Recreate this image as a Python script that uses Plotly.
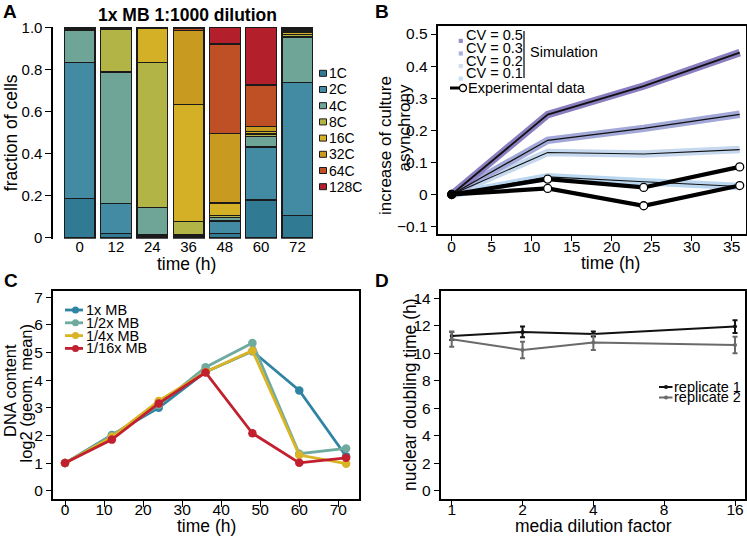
import plotly.graph_objects as go

W, H = 747, 536
FONT = "Liberation Sans, Arial, Helvetica, sans-serif"


def fx(px):
    return px / W


def fy(py):
    return 1 - py / H


# ---------------- Panel A data ----------------
a_times = ["0", "12", "24", "36", "48", "60", "72"]
a_sub1C = [0, 0, 0.016, 0.015, 0, 0, 0]
a_1C = [0.188, 0.022, 0, 0, 0.022, 0.18, 0.106]
a_2C = [0.646, 0.141, 0, 0, 0.058, 0.252, 0.631]
a_4C = [0.153, 0.626, 0.128, 0, 0.018, 0.05, 0.218]
a_8C = [0, 0.203, 0.691, 0.062, 0.008, 0.012, 0.012]
a_16C = [0, 0, 0.160, 0.556, 0.06, 0.012, 0.008]
a_32C = [0, 0, 0, 0.352, 0.33, 0.025, 0.005]
a_64C = [0, 0, 0, 0.012, 0.425, 0.195, 0]
a_128C = [0, 0, 0, 0, 0.079, 0.274, 0]
a_over = [0.013, 0.008, 0.005, 0.003, 0, 0, 0.02]
a_names = ["1C", "2C", "4C", "8C", "16C", "32C", "64C", "128C"]
a_colors = ["#307A93", "#438AA3", "#6FA596", "#B3B446", "#D3B025", "#C99A20", "#BF5025", "#B31F2A"]

# ---------------- Panel B data ----------------
b_time = [0, 12, 24, 36]
b_cv05 = [0, 0.249, 0.338, 0.442]
b_cv03 = [0, 0.169, 0.206, 0.25]
b_cv02 = [0, 0.131, 0.126, 0.14]
b_cv01 = [0, 0.055, 0.04, 0.025]
b_exp1 = [0, 0.048, 0.022, 0.086]
b_exp2 = [0, 0.019, -0.035, 0.028]
b_cv_labels = ["CV = 0.5", "CV = 0.3", "CV = 0.2", "CV = 0.1"]
b_band_colors = ["#8B7EC0", "#A2A9D8", "#C6D8EE", "#BBD7F0"]
b_key_colors = ["#9A90C9", "#A9B2DD", "#D2DFF2", "#C6DFF4"]

# ---------------- Panel C data ----------------
c_time = [0, 12, 24, 36, 48, 60, 72]
c_1x = [1, 2.02, 3.0, 4.3, 5.05, 3.63, 1.25]
c_half = [1, 2.0, 3.1, 4.47, 5.35, 1.34, 1.53]
c_quarter = [1, 1.95, 3.25, 4.3, 5.07, 1.29, 0.98]
c_16th = [1, 1.85, 3.16, 4.28, 2.08, 1.01, 1.19]
c_names = ["1x MB", "1/2x MB", "1/4x MB", "1/16x MB"]
c_colors = ["#2F84A3", "#6EAB9E", "#D9B426", "#C21F2F"]

# ---------------- Panel D data ----------------
d_factor = [1, 2, 4, 16]
d_rep1 = [11.26, 11.55, 11.4, 11.94]
d_rep1_err = [0.3, 0.39, 0.18, 0.47]
d_rep2 = [11.02, 10.24, 10.78, 10.6]
d_rep2_err = [0.55, 0.6, 0.55, 0.6]
d_names = ["replicate 1", "replicate 2"]
d_colors = ["#111111", "#6A6A6A"]

fig = go.Figure()

# ---- A: stacked bars
xs = list(range(len(a_times)))
stack = [("<1C", a_sub1C, "#1A1A1A")]
for nm, vals, col in zip(a_names, [a_1C, a_2C, a_4C, a_8C, a_16C, a_32C, a_64C, a_128C], a_colors):
    stack.append((nm, vals, col))
stack.append((">128C", a_over, "#1A1A1A"))
for nm, vals, col in stack:
    fig.add_trace(go.Bar(
        x=xs, y=[v if v > 0 else None for v in vals], name=nm, width=0.845,
        marker=dict(color=col, line=dict(color="#1A1A1A", width=1.3)),
        xaxis="x", yaxis="y", showlegend=False))

# ---- B: simulation bands, centre lines, experiment
for vals, col in zip([b_cv01, b_cv02, b_cv03, b_cv05], b_band_colors[::-1]):
    fig.add_trace(go.Scatter(x=b_time, y=vals, mode="lines", line=dict(color=col, width=7.5),
                             xaxis="x2", yaxis="y2", showlegend=False))
for vals, w in zip([b_cv01, b_cv02, b_cv03, b_cv05], [1.1, 1.1, 1.3, 1.8]):
    fig.add_trace(go.Scatter(x=b_time, y=vals, mode="lines", line=dict(color="#111111", width=w),
                             xaxis="x2", yaxis="y2", showlegend=False))
for vals in [b_exp2, b_exp1]:
    fig.add_trace(go.Scatter(x=b_time, y=vals, mode="lines+markers",
                             line=dict(color="black", width=4.2),
                             marker=dict(size=8, color=["black", "white", "white", "white"],
                                         line=dict(color="black", width=1.3)),
                             xaxis="x2", yaxis="y2", showlegend=False))

# ---- C
for vals, col, nm in zip([c_1x, c_half, c_quarter, c_16th], c_colors, c_names):
    fig.add_trace(go.Scatter(x=c_time, y=vals, mode="lines+markers", name=nm,
                             line=dict(color=col, width=2.8), marker=dict(color=col, size=8.5),
                             xaxis="x3", yaxis="y3", showlegend=False))

# ---- D
for vals, err, col, nm in zip([d_rep1, d_rep2], [d_rep1_err, d_rep2_err], d_colors, d_names):
    fig.add_trace(go.Scatter(x=d_factor, y=vals, mode="lines+markers", name=nm,
                             line=dict(color=col, width=2), marker=dict(color=col, size=4),
                             error_y=dict(type="data", array=err, color=col, thickness=2, width=2.5),
                             xaxis="x4", yaxis="y4", showlegend=False))

TICK = 15.5
TITLE = 17.5
tickfont = dict(family=FONT, size=TICK, color="black")
base = dict(showline=True, linecolor="black", linewidth=1.5, ticks="outside", ticklen=5.5,
            tickwidth=1.2, tickcolor="black", showgrid=False, zeroline=False, tickfont=tickfont,
            automargin=False)

layout = dict(
    width=W, height=H, margin=dict(l=0, r=0, t=0, b=0, autoexpand=False), plot_bgcolor="white",
    paper_bgcolor="white", showlegend=False, barmode="stack", font=dict(family=FONT, color="black"),
    xaxis=dict(domain=[fx(52.7), fx(318)], range=[-0.742, 6.567], showline=False, showgrid=False,
               zeroline=False, ticks="", tickvals=xs, ticktext=a_times, automargin=False,
               ticklabelstandoff=-3, tickfont=dict(family=FONT, size=15, color="black"), anchor="y"),
    yaxis=dict(base, domain=[fy(238.8), fy(26.6)], range=[-0.004, 1.004],
               tickfont=dict(family=FONT, size=15, color="black"),
               tickvals=[0, 0.2, 0.4, 0.6, 0.8, 1.0], ticktext=["0", "0.2", "0.4", "0.6", "0.8", "1.0"],
               anchor="x"),
    xaxis2=dict(base, ticklabelstandoff=-8, domain=[fx(438), fx(745.7)], range=[-1.71, 36.75],
                mirror=True, tickvals=[0, 5, 10, 15, 20, 25, 30, 35], anchor="y2"),
    yaxis2=dict(base, domain=[fy(234), fy(26)], range=[-0.123, 0.525], mirror=True,
                tickvals=[-0.1, 0, 0.1, 0.2, 0.3, 0.4, 0.5], anchor="x2"),
    xaxis3=dict(base, ticklabelstandoff=-10, domain=[fx(53.3), fx(359)], range=[-3.0, 75.3],
                mirror=True, tickvals=[0, 10, 20, 30, 40, 50, 60, 70], anchor="y3"),
    yaxis3=dict(base, domain=[fy(499.3), fy(290.7)], range=[-0.31, 7.24], mirror=True,
                tickvals=list(range(8)), anchor="x3"),
    xaxis4=dict(base, ticklabelstandoff=-10, domain=[fx(441), fx(745)], type="log",
                range=[-0.0455, 1.2466], mirror=True,
                tickvals=[1, 2, 4, 8, 16], ticktext=["1", "2", "4", "8", "16"], anchor="y4"),
    yaxis4=dict(base, domain=[fy(499), fy(291)], range=[-0.6, 14.53], mirror=True,
                tickvals=list(range(0, 15, 2)), anchor="x4"),
)
fig.update_layout(**layout)

ann = []
shapes = []


def text(t, px, py, size, xanchor="left", angle=0, bold=False):
    ann.append(dict(text=("<b>%s</b>" % t) if bold else t, x=fx(px), y=fy(py), xref="paper",
                    yref="paper", xanchor=xanchor, yanchor="middle", showarrow=False, textangle=angle,
                    font=dict(family=FONT, size=size, color="black")))


# panel letters
for letter, px, py in [("A", 1, 11), ("B", 373, 11), ("C", 2, 280), ("D", 373, 280)]:
    text(letter, px, py, 19, bold=True)
# A title
text("1x MB 1:1000 dilution", 187, 15, 17.5, xanchor="center", bold=True)

# axis titles
text("time (h)", 186.5, 264, TITLE, xanchor="center")
text("time (h)", 610, 262.5, TITLE, xanchor="center")
text("time (h)", 206, 526, TITLE, xanchor="center")
text("media dilution factor", 593, 525.5, TITLE, xanchor="center")
text("fraction of cells", 11.7, 132.5, TITLE, xanchor="center", angle=-90)
text("increase of culture", 386, 146, 17, xanchor="center", angle=-90)
text("asynchrony", 403.5, 128, 17, xanchor="center", angle=-90)
text("DNA content", 10, 391, 16.5, xanchor="center", angle=-90)
text("log2 (geom. mean)", 25.5, 393, 16.5, xanchor="center", angle=-90)
text("nuclear doubling time (h)", 410, 395, TITLE, xanchor="center", angle=-90)

# A legend
for i, (nm, col) in enumerate(zip(a_names, a_colors)):
    yc = 73.3 + 16.2 * i
    shapes.append(dict(type="rect", xref="paper", yref="paper", x0=fx(319.5), x1=fx(326.5),
                       y0=fy(yc + 3), y1=fy(yc - 3), fillcolor=col, line=dict(color="#1A1A1A", width=1)))
    text(nm, 327, yc, 14)

# B legend
for i, (lab, col) in enumerate(zip(b_cv_labels, b_key_colors)):
    yc = 35.5 + 12.6 * i
    text(lab, 464, yc, 14.5)
    shapes.append(dict(type="rect", xref="paper", yref="paper", x0=fx(458.7), x1=fx(462.9),
                       y0=fy(yc + 7.5), y1=fy(yc + 3.3), fillcolor=col, line=dict(width=0)))
shapes.append(dict(type="line", xref="paper", yref="paper", x0=fx(524), x1=fx(524), y0=fy(31), y1=fy(78),
                   line=dict(color="black", width=1.2)))
text("Simulation", 527.5, 52.5, 14.5)
shapes.append(dict(type="line", xref="paper", yref="paper", x0=fx(450), x1=fx(466), y0=fy(88), y1=fy(88),
                   line=dict(color="black", width=3)))
shapes.append(dict(type="circle", xref="paper", yref="paper", x0=fx(459.5), x1=fx(466.5), y0=fy(91.5),
                   y1=fy(84.5), fillcolor="white", line=dict(color="black", width=1.3)))
text("Experimental data", 466, 87.5, 14.5)

# C legend
for i, (nm, col) in enumerate(zip(c_names, c_colors)):
    yc = 310 + 12.8 * i
    shapes.append(dict(type="line", xref="paper", yref="paper", x0=fx(65), x1=fx(83), y0=fy(yc), y1=fy(yc),
                       line=dict(color=col, width=2.8)))
    shapes.append(dict(type="circle", xref="paper", yref="paper", x0=fx(72), x1=fx(79), y0=fy(yc + 3.5),
                       y1=fy(yc - 3.5), fillcolor=col, line=dict(color=col, width=0)))
    text(nm, 83.5, yc, 14.5)

# D legend
for i, (nm, col) in enumerate(zip(d_names, d_colors)):
    yc = 387 + 10.5 * i
    shapes.append(dict(type="line", xref="paper", yref="paper", x0=fx(659), x1=fx(672.5), y0=fy(yc), y1=fy(yc),
                       line=dict(color=col, width=2)))
    shapes.append(dict(type="circle", xref="paper", yref="paper", x0=fx(664), x1=fx(668), y0=fy(yc + 2),
                       y1=fy(yc - 2), fillcolor=col, line=dict(color=col, width=0)))
    text(nm, 672, yc - 0.5, 14.5)

fig.update_layout(annotations=ann, shapes=shapes)
fig.write_html("out.html", config={"displayModeBar": False},
               post_script="document.body.style.margin='0px';")
